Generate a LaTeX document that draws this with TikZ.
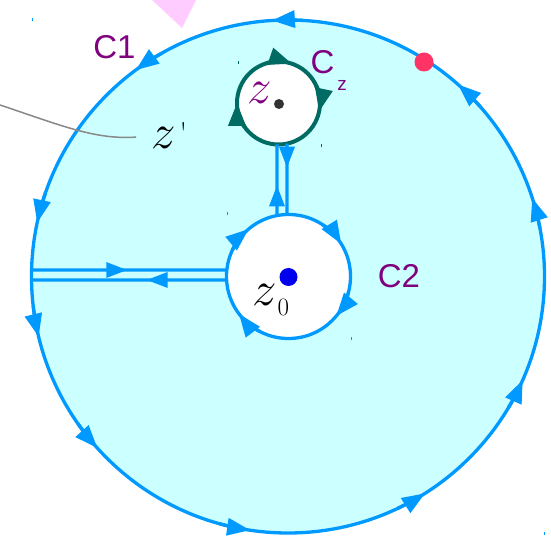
\RequirePackage{fix-cm}
\documentclass[tikz,border=0pt]{standalone}
\usepackage{fontspec}
\newfontfamily\labfont{Liberation Sans}
\usetikzlibrary{arrows.meta,decorations.markings,calc}
\definecolor{cblue}{RGB}{0,153,255}
\definecolor{ccyan}{RGB}{204,255,255}
\definecolor{cteal}{RGB}{0,107,99}
\definecolor{cpurple}{RGB}{128,0,128}
\definecolor{cred}{RGB}{255,51,102}
\definecolor{cpink}{RGB}{255,204,255}
\definecolor{cdotblue}{RGB}{0,0,238}
\definecolor{cgray}{RGB}{136,136,136}
\definecolor{cdark}{RGB}{51,51,51}
\begin{document}
\begin{tikzpicture}[x=1pt,y=1pt,
  ring/.style={circle,inner sep=0pt,outer sep=0pt},
  blueline/.style={draw=cblue,line width=3.3pt},
  bluetip/.style={draw=cblue,line width=3.3pt,-{Triangle[length=23pt,width=17pt]}},
  tealtip/.style={draw=cteal,line width=4pt,-{Triangle[length=23pt,width=17pt]}},
  lab/.style={text=cpurple,inner sep=0pt,font=\labfont\fontsize{33}{36}\selectfont},
  mathlab/.style={inner sep=0pt,anchor=base west,font=\fontsize{49}{52}\selectfont},
  mk/.style={decorate,decoration={markings,#1}},
  linearrow/.style={postaction={mk={mark=at position #1 with {\arrow[cblue]{Triangle[length=21pt,width=15pt]}}}}},
  tick/.style={line width=1pt}
]
\useasboundingbox (0,0) rectangle (551,541);
% pink triangle at the top
\fill[cpink] (152,541) -- (196,541) -- (182,513) -- cycle;
% outer contour C1
\node[ring,blueline,fill=ccyan,minimum size=513pt] (C1) at (288,264.5) {};
% inner contours
\node[ring,blueline,fill=white,minimum size=124pt] (C2) at (288.5,264.5) {};
\node[ring,draw=cteal,line width=4pt,fill=white,minimum size=83pt] (Cz) at (278.5,438) {};
% slit lines
\draw[blueline,linearrow=0.49] ($(C1.center)+(178.55:256.5)$) -- ($(C2.center)+(174:62)$);
\draw[blueline,linearrow=0.41] ($(C2.center)+(183.2:62)$) -- ($(C1.center)+(180.78:256.5)$);
\draw[blueline,linearrow=0.425] ($(C2.center)+(100.7:62)$) -- ($(Cz.center)+(267.9:41.5)$);
\draw[blueline,linearrow=0.34] ($(Cz.center)+(281.8:41.5)$) -- ($(C2.center)+(91.4:62)$);
% arrows on C1 (counterclockwise)
\foreach \a in {17.8,48.5,93.6,126.4,167.9,193.6,222,261.5,302.3,336.2}
  \draw[bluetip] ($(C1.center)+(\a-7:256.5)$) arc[start angle=\a-7,end angle=\a,radius=256.5];
% arrows on C2 (clockwise)
\foreach \a in {129.9,31.6,320.4,217}
  \draw[bluetip] ($(C2.center)+(\a+25:62)$) arc[start angle=\a+25,end angle=\a,radius=62];
% arrows on Cz (clockwise)
\foreach \a in {71,348,180}
  \draw[tealtip] ($(Cz.center)+(\a+36:41.5)$) arc[start angle=\a+36,end angle=\a,radius=41.5];
% points
\node[ring,fill=cdotblue,minimum size=18pt] (z0dot) at (288.5,264) {};
\node[ring,fill=cdark,minimum size=10pt] (zdot) at (279,437) {};
\node[ring,fill=cred,minimum size=19pt] (rdot) at (424,479) {};
% small corner ticks
\draw[tick,cblue] (32,519.5) -- ++(0,3);
\draw[tick,cblue] (544,6.5) -- ++(0,3);
\draw[tick,cteal] (238,476.5) -- ++(0,3);
\draw[tick,cteal] (321,393.5) -- ++(0,3);
\draw[tick,cblue] (227,325.5) -- ++(0,3);
\draw[tick,cblue] (351,200.5) -- ++(0,3);
% labels
\node[lab] (lC1) at (114.5,494) {C1};
\node[lab] (lC2) at (399,265) {C2};
\node[lab] (lCz) at (322.5,478.5) {C};
\node[lab,font=\labfont\fontsize{19}{20}\selectfont] (lCzs) at (342,456) {z};
\node[mathlab,text=cpurple] (lz) at (247,437) {$z$};
\node[mathlab] (lz0) at (252,235) {$z$\hspace{1pt}\raisebox{-10pt}{\fontsize{25}{25}\selectfont 0}};
\node[mathlab] (zp) at (151,392) {$z$\hspace{4pt}\raisebox{5pt}{\fontsize{30}{30}\selectfont\textquotesingle}};
% grey pointer line
\coordinate (zfree) at (0,436);
\draw[cgray,line width=1.5pt,shorten >=15pt] (zfree) .. controls (60,416) and (95,401) .. (zp.west);
\end{tikzpicture}
\end{document}
